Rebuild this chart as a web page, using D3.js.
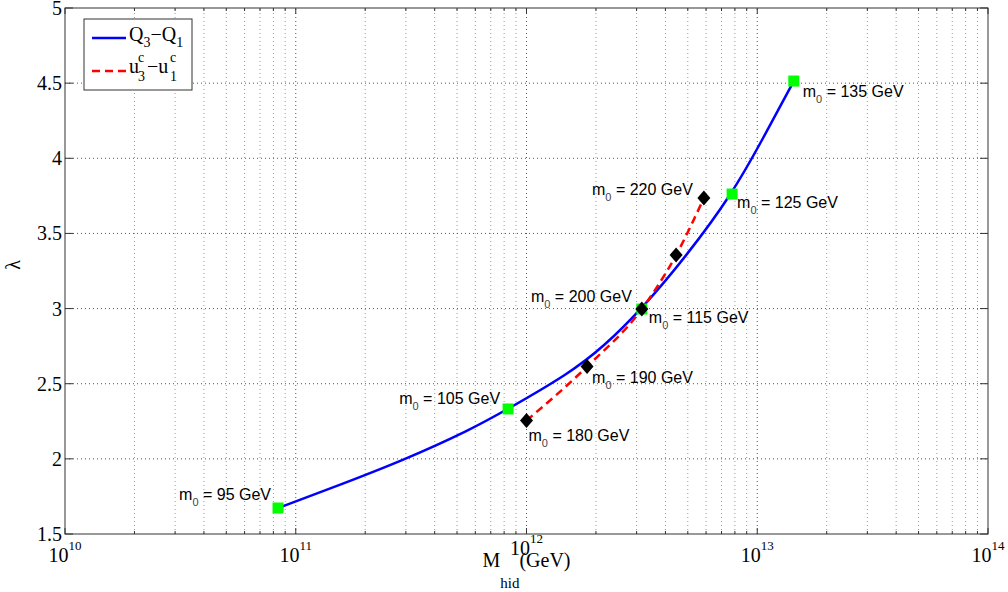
<!DOCTYPE html>
<html>
<head>
<meta charset="utf-8">
<script src="https://cdn.jsdelivr.net/npm/d3@7"></script>
<style>
  body { margin: 0; background: #fff; }
  svg { display: block; }
  .lbl { font-family: Arial, "Liberation Sans", Helvetica, sans-serif; font-size: 16px; fill: #000; }
  .serif { font-family: "Times New Roman", "Liberation Serif", serif; fill: #000; }
</style>
</head>
<body>
<svg id="chart" width="1008" height="592"></svg>
<script>
// Q3-Q1 curve (blue)
const qCurveM = [8.38e10, 1.51e11, 2.92e11, 5.69e11, 8.32e11, 1.54e12, 2.15e12, 3.16e12, 4.97e12, 7.78e12, 1.05e13, 1.44e13];
const qCurveLambda = [1.673, 1.82, 1.99, 2.192, 2.332, 2.571, 2.744, 2.997, 3.356, 3.762, 4.121, 4.514];

// green squares on the blue curve
const qMass = [95, 105, 115, 125, 135];
const qM = [8.38e10, 8.32e11, 3.16e12, 7.78e12, 1.44e13];
const qLambda = [1.673, 2.332, 2.997, 3.762, 4.514];

// black diamonds / red dashed curve (uc3-uc1)
const uMass = [180, 190, 200, 210, 220];
const uM = [1.0e12, 1.83e12, 3.16e12, 4.45e12, 5.87e12];
const uLambda = [2.255, 2.614, 2.997, 3.356, 3.735];

// axes
const xDomain = [1e10, 1e14];
const xExponents = [10, 11, 12, 13, 14];
const yTicks = [1.5, 2, 2.5, 3, 3.5, 4, 4.5, 5];

const margin = {left: 65, top: 8, right: 20, bottom: 58};
const W = 1008, H = 592;
const svg = d3.select('#chart');

const x = d3.scaleLog().domain(xDomain).range([margin.left, W - margin.right]);
const y = d3.scaleLinear().domain([1.5, 5]).range([H - margin.bottom, margin.top]);
const [x0, x1] = x.range();
const [y0, y1] = y.range();

svg.append('rect').attr('width', W).attr('height', H).attr('fill', '#fff');

// minor / major decades for the grid
let minorX = [];
for (let e = 10; e < 14; e++) {
  for (let k = 2; k <= 9; k++) minorX.push(k * Math.pow(10, e));
}
const majorX = xExponents.map(e => Math.pow(10, e));

const grid = svg.append('g');
grid.selectAll('.gmin')
  .data(minorX)
  .enter()
  .append('line')
  .attr('x1', d => x(d)).attr('x2', d => x(d))
  .attr('y1', y0).attr('y2', y1)
  .attr('stroke', '#9a9a9a')
  .attr('stroke-dasharray', '1,3');

grid.selectAll('.gmaj')
  .data(majorX.slice(1, -1))
  .enter()
  .append('line')
  .attr('x1', d => x(d)).attr('x2', d => x(d))
  .attr('y1', y0).attr('y2', y1)
  .attr('stroke', '#555')
  .attr('stroke-dasharray', '1,3');

grid.selectAll('.gy')
  .data(yTicks.slice(1, -1))
  .enter()
  .append('line')
  .attr('x1', x0).attr('x2', x1)
  .attr('y1', d => y(d)).attr('y2', d => y(d))
  .attr('stroke', '#555')
  .attr('stroke-dasharray', '1,3');

// curves
const smooth = d3.line()
  .x(d => x(d[0]))
  .y(d => y(d[1]))
  .curve(d3.curveBasis);

const through = d3.line()
  .x(d => x(d[0]))
  .y(d => y(d[1]))
  .curve(d3.curveMonotoneX);

svg.append('path')
  .datum(qCurveM.map((m, i) => [m, qCurveLambda[i]]))
  .attr('d', smooth)
  .attr('fill', 'none')
  .attr('stroke', '#0000ff')
  .attr('stroke-width', 2.5);

svg.append('path')
  .datum(uM.map((m, i) => [m, uLambda[i]]))
  .attr('d', through)
  .attr('fill', 'none')
  .attr('stroke', '#ff0000')
  .attr('stroke-width', 2.5)
  .attr('stroke-dasharray', '8,5');

// markers
svg.selectAll('.sq')
  .data(qM.map((m, i) => [m, qLambda[i]]))
  .enter()
  .append('rect')
  .attr('x', d => x(d[0]) - 5.5)
  .attr('y', d => y(d[1]) - 5.5)
  .attr('width', 11)
  .attr('height', 11)
  .attr('fill', '#00ff00');

svg.selectAll('.dm')
  .data(uM.map((m, i) => [m, uLambda[i]]))
  .enter()
  .append('path')
  .attr('d', d => {
    const cx = x(d[0]), cy = y(d[1]);
    return `M${cx},${cy - 7.5}L${cx + 6.5},${cy}L${cx},${cy + 7.5}L${cx - 6.5},${cy}Z`;
  })
  .attr('fill', '#000');

// point labels: [dx, dy, anchor]
const labelOffsets = {
  95: [-7, -8, 'end'], 105: [-8, -5, 'end'], 115: [7, 14, 'start'],
  125: [5, 14, 'start'], 135: [9, 16, 'start'],
  180: [2, 20, 'start'], 190: [5, 16, 'start'], 200: [-10, -7, 'end'], 220: [-11, -3, 'end']
};

function addLabel(mass, m, lam) {
  const off = labelOffsets[mass];
  if (!off) return;
  const t = svg.append('text')
    .attr('class', 'lbl')
    .attr('x', x(m) + off[0])
    .attr('y', y(lam) + off[1])
    .attr('text-anchor', off[2]);
  t.append('tspan').text('m');
  t.append('tspan').attr('dy', 6).style('font-size', '11px').style('fill', '#444').text('0');
  t.append('tspan').attr('dy', -6).text(` = ${mass} GeV`);
}
qMass.forEach((ms, i) => addLabel(ms, qM[i], qLambda[i]));
uMass.forEach((ms, i) => addLabel(ms, uM[i], uLambda[i]));

// frame
svg.append('rect')
  .attr('x', x0).attr('y', y1)
  .attr('width', x1 - x0).attr('height', y0 - y1)
  .attr('fill', 'none')
  .attr('stroke', '#333')
  .attr('stroke-width', 1);

// ticks
const ticks = svg.append('g').attr('stroke', '#333');
minorX.forEach(v => {
  ticks.append('line').attr('x1', x(v)).attr('x2', x(v)).attr('y1', y0).attr('y2', y0 - 3);
  ticks.append('line').attr('x1', x(v)).attr('x2', x(v)).attr('y1', y1).attr('y2', y1 + 3);
});
majorX.forEach(v => {
  ticks.append('line').attr('x1', x(v)).attr('x2', x(v)).attr('y1', y0).attr('y2', y0 - 6);
  ticks.append('line').attr('x1', x(v)).attr('x2', x(v)).attr('y1', y1).attr('y2', y1 + 6);
});
yTicks.forEach(v => {
  ticks.append('line').attr('x1', x0).attr('x2', x0 + 8).attr('y1', y(v)).attr('y2', y(v));
  ticks.append('line').attr('x1', x1).attr('x2', x1 - 8).attr('y1', y(v)).attr('y2', y(v));
});

// tick labels
svg.selectAll('.yl')
  .data(yTicks)
  .enter()
  .append('text')
  .attr('class', 'serif')
  .attr('x', x0 - 3)
  .attr('y', d => y(d) + 7)
  .attr('text-anchor', 'end')
  .style('font-size', '20px')
  .text(d => d);

xExponents.forEach(e => {
  const t = svg.append('text')
    .attr('class', 'serif')
    .attr('x', x(Math.pow(10, e)))
    .attr('y', y0 + (e === 12 ? 21 : 28))   // 10^12 sits a little higher in the original
    .attr('text-anchor', 'middle')
    .style('font-size', '20px');
  t.append('tspan').text('10');
  t.append('tspan').attr('dy', -12).style('font-size', '13px').text(e);
});

// axis titles
const xt = svg.append('text')
  .attr('class', 'serif')
  .attr('x', (x0 + x1) / 2)
  .attr('y', y0 + 33)
  .attr('text-anchor', 'middle')
  .style('font-size', '20px');
xt.append('tspan').text('M');
xt.append('tspan').attr('dy', 21).style('font-size', '15px').text('hid');
xt.append('tspan').attr('dy', -21).text('(GeV)');

svg.append('text')
  .attr('class', 'serif')
  .attr('transform', `translate(20,${(y0 + y1) / 2 - 6}) rotate(-90)`)
  .attr('text-anchor', 'middle')
  .style('font-size', '20px')
  .text('λ');

// legend
const lg = svg.append('g').attr('transform', 'translate(84,19)');
lg.append('rect').attr('width', 108).attr('height', 71)
  .attr('fill', '#fff').attr('stroke', '#333');
lg.append('line').attr('x1', 8).attr('x2', 42).attr('y1', 19).attr('y2', 19)
  .attr('stroke', '#0000ff').attr('stroke-width', 2.5);
lg.append('line').attr('x1', 8).attr('x2', 42).attr('y1', 52).attr('y2', 52)
  .attr('stroke', '#ff0000').attr('stroke-width', 2.5).attr('stroke-dasharray', '8,5');

const q = lg.append('text').attr('class', 'serif').attr('x', 45).attr('y', 22).style('font-size', '20px');
q.append('tspan').text('Q');
q.append('tspan').attr('dy', 6).style('font-size', '14px').text('3');
q.append('tspan').attr('dy', -6).text('\u2212Q');
q.append('tspan').attr('dy', 6).style('font-size', '14px').text('1');

const sub = (txt, xx, yy, size) => lg.append('text').attr('class', 'serif')
  .attr('x', xx).attr('y', yy).style('font-size', size).text(txt);
sub('u', 45, 54, '20px');
sub('c', 54, 43, '14px');
sub('3', 54, 62, '14px');
sub('\u2212u', 63, 54, '20px');
sub('c', 86, 43, '14px');
sub('1', 86, 62, '14px');
</script>
</body>
</html>
